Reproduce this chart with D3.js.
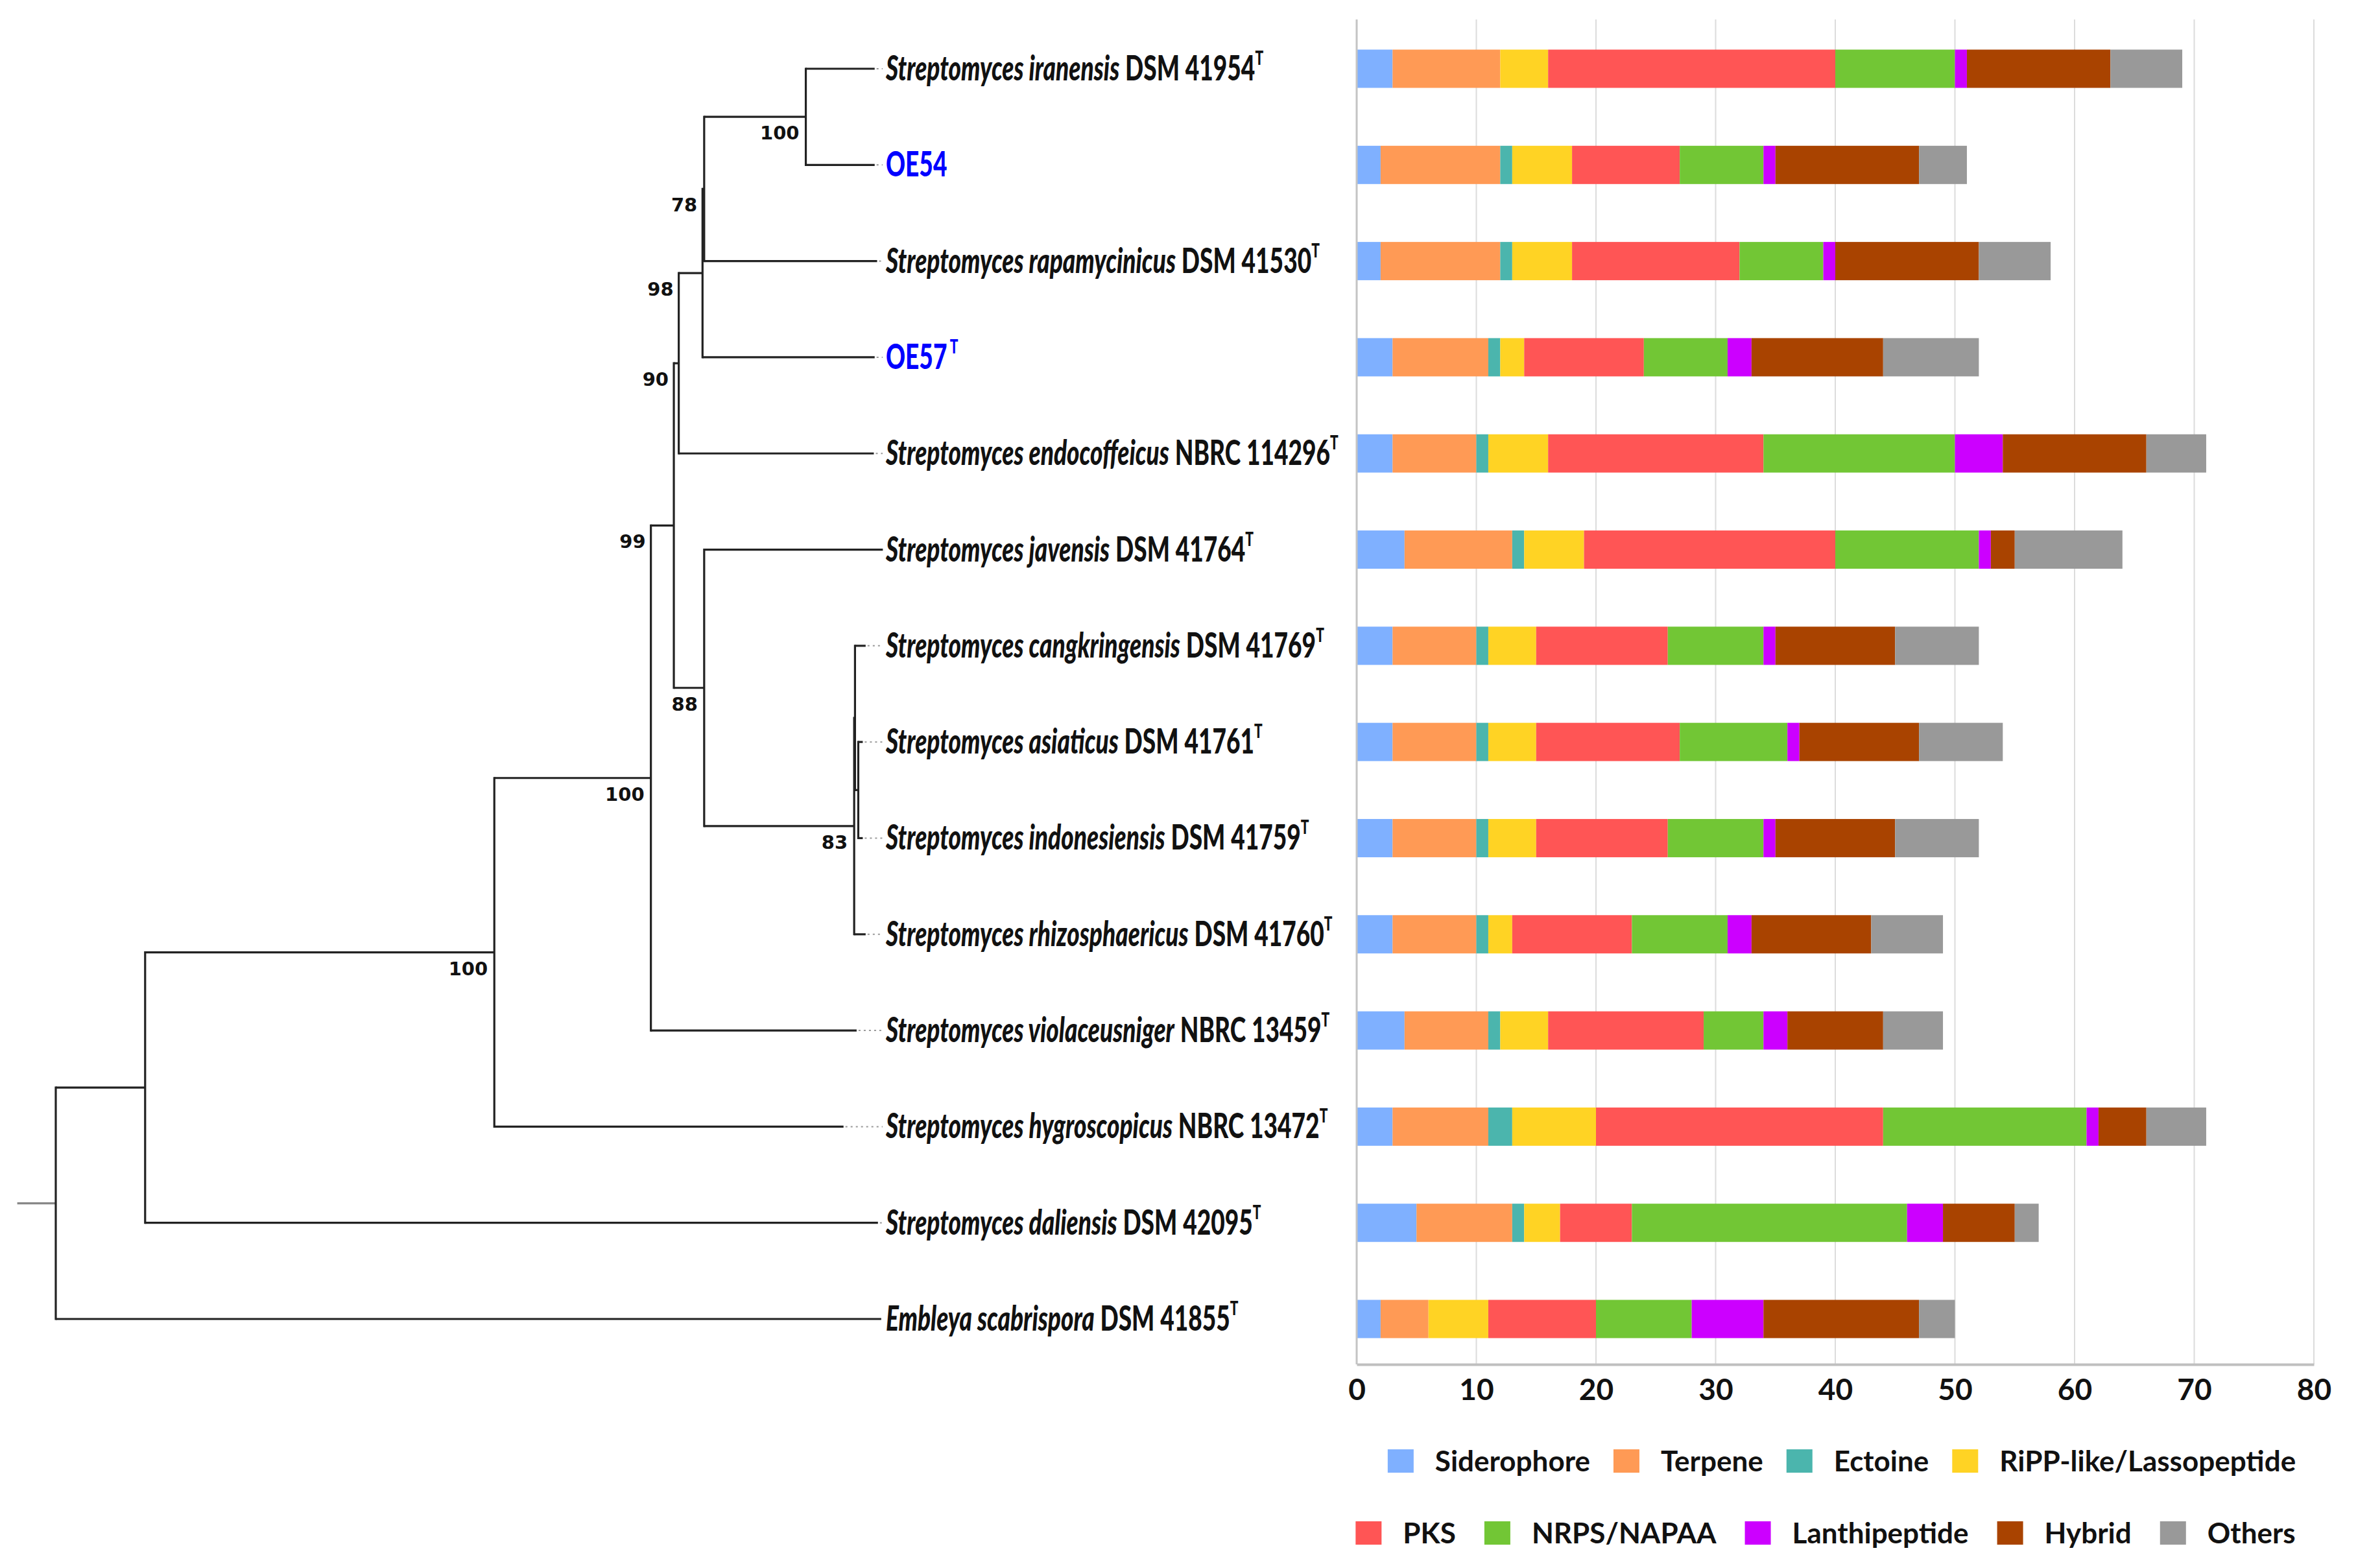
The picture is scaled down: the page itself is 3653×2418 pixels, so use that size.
<!DOCTYPE html>
<html>
<head>
<meta charset="utf-8">
<script src="https://cdn.jsdelivr.net/npm/d3@7"></script>
<style>
  body { margin: 0; background: #fff; }
  svg { display: block; }
</style>
</head>
<body>
<svg id="chart" width="3653" height="2418"></svg>
<script>
// taxa in tree order, top to bottom
var taxa = ["Streptomyces iranensis", "OE54", "Streptomyces rapamycinicus", "OE57",
  "Streptomyces endocoffeicus", "Streptomyces javensis", "Streptomyces cangkringensis",
  "Streptomyces asiaticus", "Streptomyces indonesiensis", "Streptomyces rhizosphaericus",
  "Streptomyces violaceusniger", "Streptomyces hygroscopicus", "Streptomyces daliensis",
  "Embleya scabrispora"];
var strains = ["DSM 41954", "", "DSM 41530", "", "NBRC 114296", "DSM 41764", "DSM 41769",
  "DSM 41761", "DSM 41759", "DSM 41760", "NBRC 13459", "NBRC 13472", "DSM 42095", "DSM 41855"];
var typeStrain = [1, 0, 1, 1, 1, 1, 1, 1, 1, 1, 1, 1, 1, 1];
var isolate = [0, 1, 0, 1, 0, 0, 0, 0, 0, 0, 0, 0, 0, 0];

var categories = ["Siderophore", "Terpene", "Ectoine", "RiPP-like/Lassopeptide", "PKS",
  "NRPS/NAPAA", "Lanthipeptide", "Hybrid", "Others"];
var colors = ["#7fb0ff", "#ff9a55", "#4bb5ad", "#ffd324", "#ff5555", "#72c635", "#cc00ff", "#a94300", "#999999"];

var siderophore = [3, 2, 2, 3, 3, 4, 3, 3, 3, 3, 4, 3, 5, 2];
var terpene     = [9, 10, 10, 8, 7, 9, 7, 7, 7, 7, 7, 8, 8, 4];
var ectoine     = [0, 1, 1, 1, 1, 1, 1, 1, 1, 1, 1, 2, 1, 0];
var ripp        = [4, 5, 5, 2, 5, 5, 4, 4, 4, 2, 4, 7, 3, 5];
var pks         = [24, 9, 14, 10, 18, 21, 11, 12, 11, 10, 13, 24, 6, 9];
var nrps        = [10, 7, 7, 7, 16, 12, 8, 9, 8, 8, 5, 17, 23, 8];
var lanthi      = [1, 1, 1, 2, 4, 1, 1, 1, 1, 2, 2, 1, 3, 6];
var hybrid      = [12, 12, 12, 11, 12, 2, 10, 10, 10, 10, 8, 4, 6, 13];
var others      = [6, 4, 6, 8, 5, 9, 7, 7, 7, 6, 5, 5, 2, 3];
var series = [siderophore, terpene, ectoine, ripp, pks, nrps, lanthi, hybrid, others];

var xTicks = [0, 10, 20, 30, 40, 50, 60, 70, 80];
var legendRows = [[0, 1, 2, 3], [4, 5, 6, 7, 8]];

// tree: leaf = index into taxa, len = branch length, bs = bootstrap
var tree = {len: 0, children: [
  {len: 10.9, children: [
    {len: 42.6, bs: 100, children: [
      {len: 19.1, bs: 100, children: [
        {len: 2.8, bs: 99, children: [
          {len: 0.6, bs: 90, children: [
            {len: 2.9, bs: 98, children: [
              {len: 0.2, bs: 78, children: [
                {len: 12.4, bs: 100, children: [{leaf: 0, len: 8.4}, {leaf: 1, len: 8.4}]},
                {leaf: 2, len: 21.1}
              ]},
              {leaf: 3, len: 21.0}
            ]},
            {leaf: 4, len: 23.8}
          ]},
          {len: 3.7, bs: 88, children: [
            {leaf: 5, len: 21.8},
            {len: 18.3, bs: 83, children: [
              {len: 0.1, children: [
                {leaf: 6, len: 1.3},
                {len: 0.4, children: [{leaf: 7, len: 0.55}, {leaf: 8, len: 0.55}]}
              ]},
              {leaf: 9, len: 1.4}
            ]}
          ]}
        ]},
        {leaf: 10, len: 25.1}
      ]},
      {leaf: 11, len: 42.6}
    ]},
    {leaf: 12, len: 89.4}
  ]},
  {leaf: 13, len: 100.7}
]};

var svg = d3.select("#chart");
var font = "Lato, 'Open Sans', sans-serif";

var yRow = d3.scalePoint().domain(d3.range(taxa.length)).range([106, 2034]);

// ---------- tree ----------
var xTree = d3.scaleLinear().domain([0, 100]).range([86, 1350]);
var root = d3.hierarchy(tree);
root.eachBefore(function (d) { d.dist = d.parent ? d.parent.dist + d.data.len : 0; });
root.eachAfter(function (d) {
  if (d.children) d.yy = (d.children[0].yy + d.children[d.children.length - 1].yy) / 2;
  else d.yy = yRow(d.data.leaf);
});

var gTree = svg.append("g").attr("fill", "none").attr("stroke", "#222").attr("stroke-width", 3.2);

gTree.append("line")
  .attr("x1", xTree(-4.7)).attr("x2", xTree(0))
  .attr("y1", root.yy).attr("y2", root.yy)
  .attr("stroke", "#888");

root.descendants().forEach(function (d) {
  if (d.parent) {
    gTree.append("line")
      .attr("x1", xTree(d.parent.dist)).attr("x2", xTree(d.dist))
      .attr("y1", d.yy).attr("y2", d.yy);
  }
  if (d.children) {
    gTree.append("line")
      .attr("x1", xTree(d.dist)).attr("x2", xTree(d.dist))
      .attr("y1", d.children[0].yy - 1.6)
      .attr("y2", d.children[d.children.length - 1].yy + 1.6);
  }
});

// bootstrap values
root.descendants().filter(function (d) { return d.data.bs; }).forEach(function (d) {
  var xn = xTree(d.dist), xp = xTree(d.parent.dist);
  var xe = (xn - xp) < 40 ? xp - 8 : xn - 10;
  svg.append("text")
    .attr("x", xe).attr("y", d.yy + 35)
    .attr("text-anchor", "end")
    .attr("font-family", "'DejaVu Sans', Verdana, sans-serif")
    .attr("font-weight", "bold").attr("font-size", 29)
    .attr("fill", "#111")
    .text(d.data.bs);
});

// leaf labels with dotted leaders
var labelX = 1366;
root.leaves().forEach(function (d) {
  var i = d.data.leaf;
  var tip = xTree(d.dist);
  if (labelX - 5 - tip > 4) {
    svg.append("line")
      .attr("x1", tip + 3).attr("x2", labelX - 5)
      .attr("y1", d.yy).attr("y2", d.yy)
      .attr("stroke", "#999").attr("stroke-width", 2)
      .attr("stroke-dasharray", "3,5");
  }
  var g = svg.append("g").attr("transform", "translate(" + labelX + "," + (d.yy + 18) + ") scale(0.7,1)");
  var t = g.append("text")
    .attr("font-family", font).attr("font-weight", 900).attr("font-size", 53)
    .attr("fill", isolate[i] ? "#0000ff" : "#111");
  if (isolate[i]) {
    t.append("tspan").text(taxa[i]);
  } else {
    t.append("tspan").attr("font-style", "italic").text(taxa[i]);
    t.append("tspan").text(" " + strains[i]);
  }
  if (typeStrain[i]) {
    t.append("tspan").attr("font-size", 30).attr("dy", -24).text(isolate[i] ? " T" : "T");
  }
});

// ---------- stacked bars ----------
var x = d3.scaleLinear().domain([0, 80]).range([2092, 3568]);
var axisY = 2104, topY = 30, barH = 59;

var rows = taxa.map(function (name, i) {
  var r = {row: i};
  categories.forEach(function (c, k) { r[c] = series[k][i]; });
  return r;
});
var stacked = d3.stack().keys(categories)(rows);

svg.append("g").selectAll("line").data(xTicks.slice(1)).enter().append("line")
  .attr("x1", function (d) { return x(d); }).attr("x2", function (d) { return x(d); })
  .attr("y1", topY).attr("y2", axisY)
  .attr("stroke", "#dcdcdc").attr("stroke-width", 2);

svg.selectAll("g.layer").data(stacked).enter().append("g")
  .attr("class", "layer")
  .attr("fill", function (d, k) { return colors[k]; })
  .selectAll("rect").data(function (d) { return d; }).enter().append("rect")
  .attr("x", function (d) { return x(d[0]); })
  .attr("width", function (d) { return x(d[1]) - x(d[0]); })
  .attr("y", function (d) { return yRow(d.data.row) - barH / 2; })
  .attr("height", barH);

svg.append("line")
  .attr("x1", x(0)).attr("x2", x(0)).attr("y1", topY).attr("y2", axisY)
  .attr("stroke", "#c4c4c4").attr("stroke-width", 3);

var xAxis = d3.axisBottom(x).tickValues(xTicks).tickSize(0).tickPadding(22);
var ax = svg.append("g").attr("transform", "translate(0," + axisY + ")").call(xAxis);
ax.select(".domain").attr("stroke", "#bfbfbf").attr("stroke-width", 4);
ax.selectAll("text")
  .attr("font-family", font).attr("font-weight", "bold").attr("font-size", 46)
  .attr("fill", "#111");

// ---------- legend ----------
var legendY = [2253, 2364], legendCx = [2840, 2815], legendGap = [36, 44];
legendRows.forEach(function (items, r) {
  var g = svg.append("g");
  var cx = 0;
  items.forEach(function (k) {
    g.append("rect")
      .attr("x", cx).attr("y", legendY[r] - 18)
      .attr("width", 40).attr("height", 36)
      .attr("fill", colors[k]);
    var t = g.append("text")
      .attr("x", cx + 73).attr("y", legendY[r] + 16)
      .attr("font-family", font).attr("font-weight", "bold").attr("font-size", 44)
      .attr("fill", "#111")
      .text(categories[k]);
    cx += 73 + t.node().getComputedTextLength() + legendGap[r];
  });
  var w = cx - legendGap[r];
  g.attr("transform", "translate(" + (legendCx[r] - w / 2) + ",0)");
});
</script>
</body>
</html>
